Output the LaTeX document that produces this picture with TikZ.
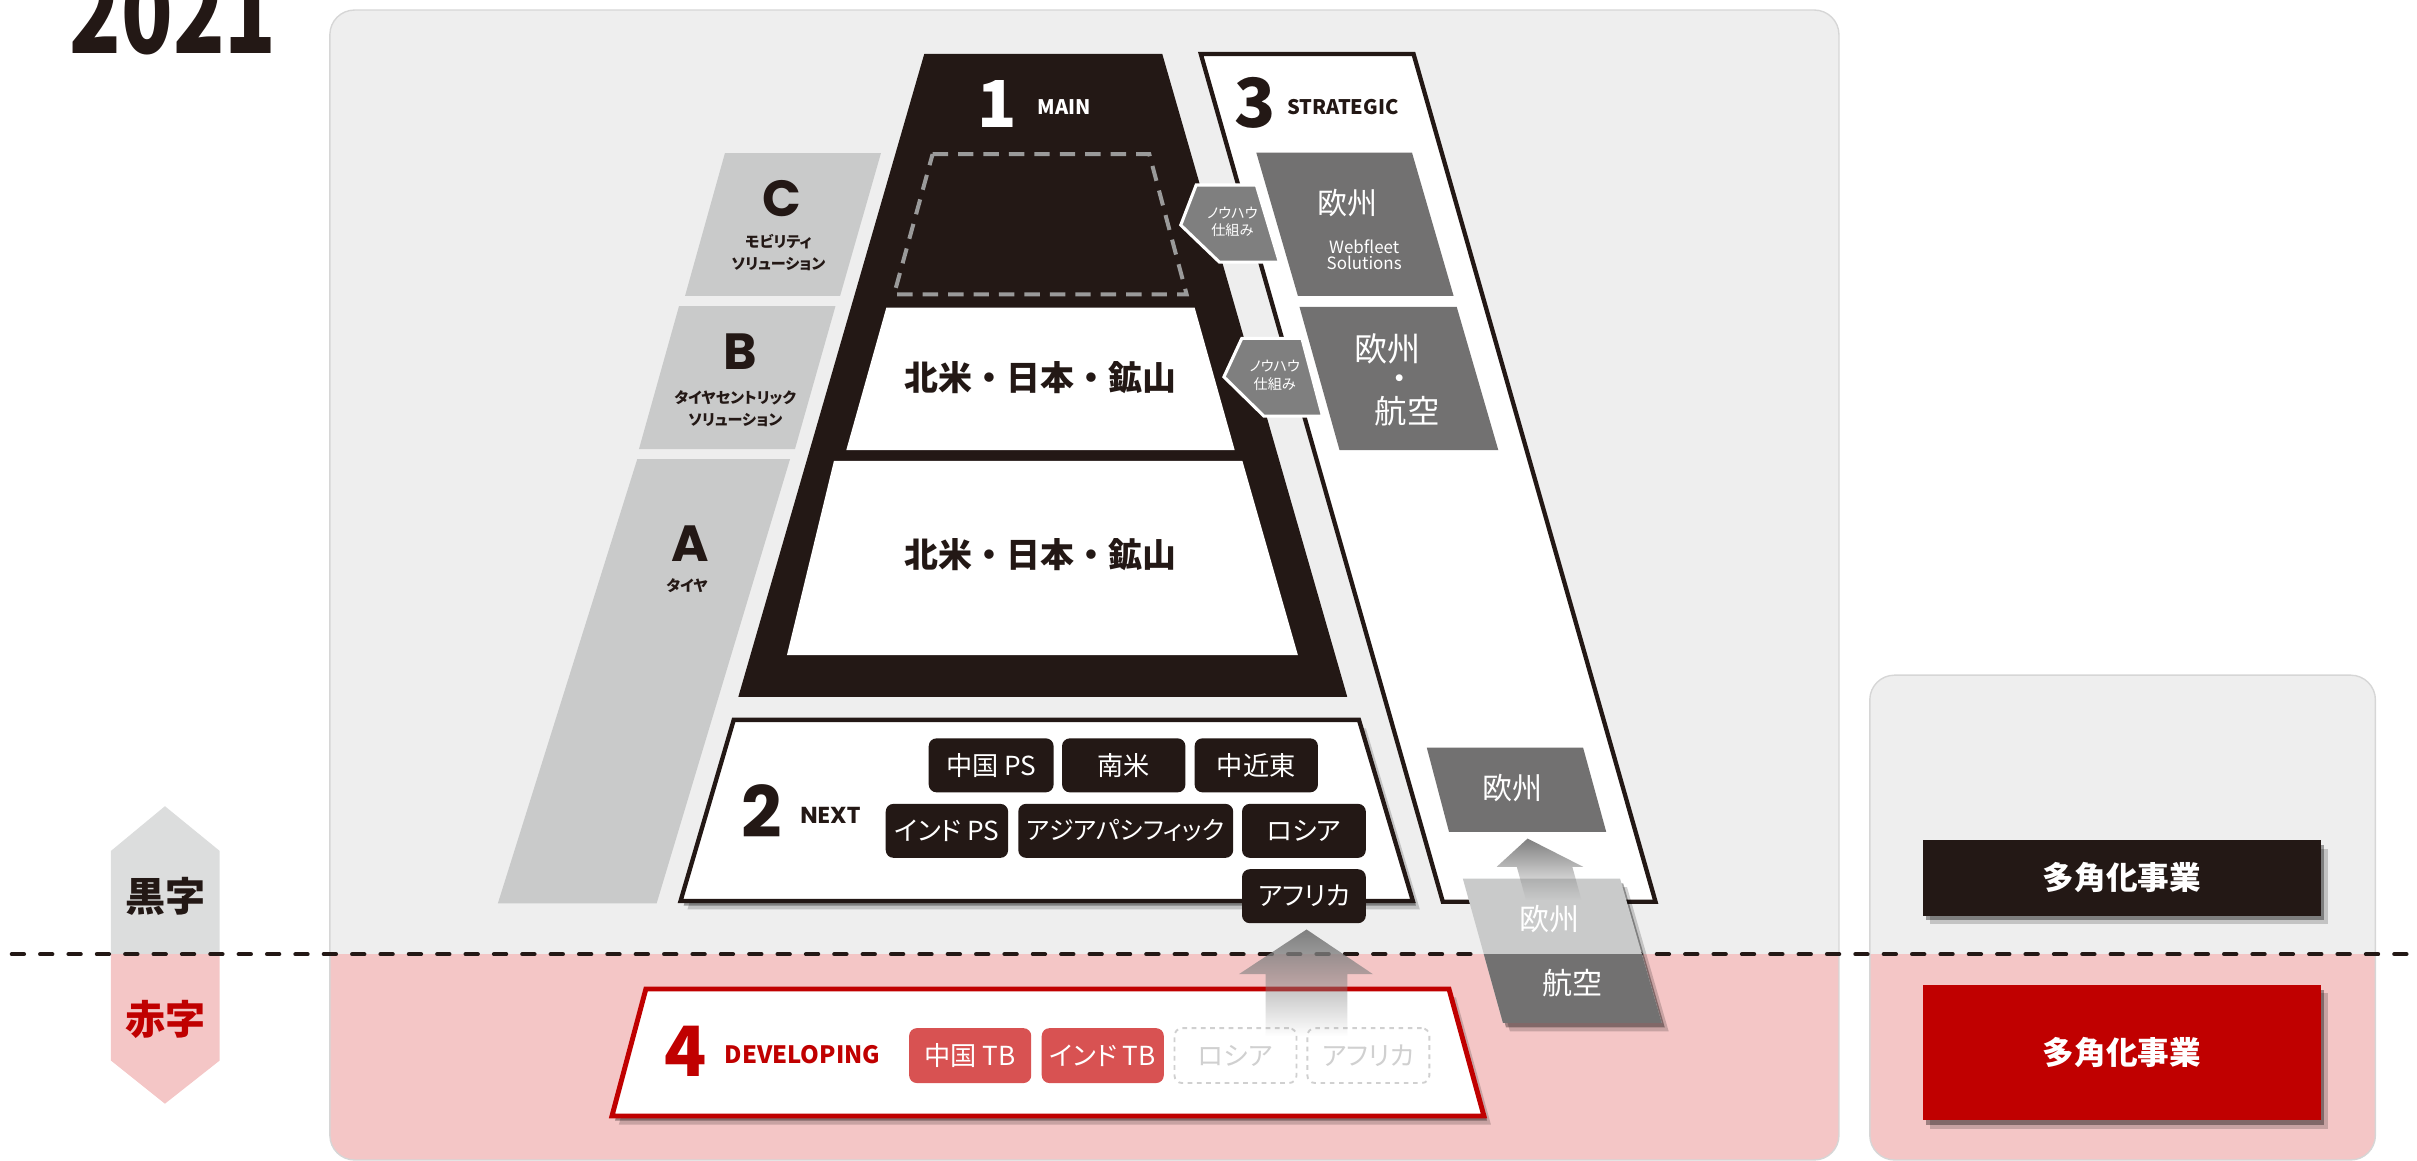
\documentclass[tikz,border=0pt]{standalone}
\usepackage{fontspec}
\setmainfont{Noto Sans CJK JP}
\newfontfamily\jpp{Noto Sans CJK JP}[RawFeature=+palt]
\newfontfamily\geo{Poppins}
\usetikzlibrary{shadows,fadings,calc}
\newcommand{\fsz}[1]{\fontsize{#1pt}{#1pt}\selectfont}
\newcommand{\fszl}[2]{\fontsize{#1pt}{#2pt}\selectfont}
\definecolor{ink}{HTML}{231815}
\definecolor{panelbg}{HTML}{EEEEEE}
\definecolor{panelline}{HTML}{D6D6D6}
\definecolor{pinkbg}{HTML}{F4C6C6}
\definecolor{lgray}{HTML}{C9CACA}
\definecolor{dgray}{HTML}{727171}
\definecolor{agray}{HTML}{7F7F7F}
\definecolor{hexgray}{HTML}{DCDDDD}
\definecolor{redc}{HTML}{C00000}
\definecolor{salmon}{HTML}{D85252}
\definecolor{dashgray}{HTML}{9A9A9A}
\definecolor{ghost}{HTML}{D0D0D0}
\tikzfading[name=fadedown, top color=transparent!0, middle color=transparent!20, bottom color=transparent!100]
\tikzset{
  softshadow/.style={
    drop shadow={shadow xshift=2pt,shadow yshift=-3pt,opacity=.35,fill=black},
    drop shadow={shadow xshift=4.5pt,shadow yshift=-5.5pt,opacity=.18,fill=black}},
  nbox/.style={fill=ink, text=white, rounded corners=5pt, minimum height=35pt, inner sep=0pt, font=\jpp\fsz{17}},
  tbox/.style={fill=salmon, text=white, rounded corners=5pt, minimum height=35.6pt, minimum width=79.2pt, inner sep=0pt, font=\jpp\fsz{17}},
  gbox/.style={draw=ghost, dashed, line width=1.2pt, text=ghost, rounded corners=5pt, minimum height=35.6pt, minimum width=79.2pt, inner sep=0pt, font=\jpp\fsz{17}},
  wtxt/.style={text=white, inner sep=0pt},
  ktxt/.style={text=ink, inner sep=0pt},
  halo/.style={inner sep=0pt, font=\bfseries\fsz{26}},
}
\begin{document}
\begin{tikzpicture}[x=1pt,y=-1pt]
\useasboundingbox (0,0) rectangle (1568,753);
% panels
\fill[panelbg, rounded corners=16pt] (214,6.5) rectangle (1193,752.5);
\fill[panelbg, rounded corners=16pt] (1213,438) rectangle (1541,752.5);
\begin{scope}
  \clip[rounded corners=16pt] (214,6.5) rectangle (1193,752.5);
  \fill[pinkbg] (200,619) rectangle (1200,760);
\end{scope}
\begin{scope}
  \clip[rounded corners=16pt] (1213,438) rectangle (1541,752.5);
  \fill[pinkbg] (1200,619) rectangle (1560,760);
\end{scope}
\draw[panelline, line width=0.9pt, rounded corners=16pt] (214,6.5) rectangle (1193,752.5);
\draw[panelline, line width=0.9pt, rounded corners=16pt] (1213,438) rectangle (1541,752.5);
% hexagon
\fill[hexgray] (107,523) -- (142.5,552) -- (142.5,619) -- (72,619) -- (72,552) -- cycle;
\fill[pinkbg] (72,619) -- (142.5,619) -- (142.5,688) -- (107,716) -- (72,688) -- cycle;
% A B C
\fill[lgray] (470.3,99.3) -- (571.5,99.3) -- (545,192) -- (444.4,192) -- cycle;
\fill[lgray] (440.5,198.6) -- (542,198.6) -- (515.7,291.4) -- (414.5,291.4) -- cycle;
\fill[lgray] (413.4,297.9) -- (512.5,297.9) -- (426,586) -- (323,586) -- cycle;
\node[ktxt, font=\geo\bfseries\fsz{33}] (tC) at (507,129) {C};
\node[ktxt, font=\jpp\bfseries\fszl{9.8}{14}, align=center] (mC) at (505,164) {モビリティ\\ソリューション};
\node[ktxt, font=\geo\bfseries\fsz{33}] (tB) at (480,228.4) {B};
\node[ktxt, font=\jpp\bfseries\fszl{9.8}{14}, align=center] (mB) at (477,265) {タイヤセントリック\\ソリューション};
\node[ktxt, font=\geo\bfseries\fsz{33}] (tA) at (447.6,352.6) {A};
\node[ktxt, font=\jpp\bfseries\fsz{9.8}] (mA) at (445.7,380) {タイヤ};
% MAIN
\fill[ink] (599.6,35) -- (754,35) -- (874,452) -- (479,452) -- cycle;
\draw[dashgray, line width=2.6pt, dash pattern=on 10pt off 6.5pt] (605,100) -- (745.6,100) -- (769.8,191) -- (580,191) -- cycle;
\fill[white] (575,199.5) -- (775,199.5) -- (801,292) -- (549,292) -- cycle;
\fill[white] (541,299) -- (806,299) -- (842,425) -- (510.5,425) -- cycle;
\node[wtxt, font=\bfseries\fsz{42}, anchor=base] (n1) at (647,83) {1};
\node[wtxt, font=\bfseries\fsz{13}, anchor=base west] (main) at (673,74.6) {MAIN};
\node[ktxt, font=\bfseries\fsz{22}] (na1) at (675,245) {北米・日本・鉱山};
\node[ktxt, font=\bfseries\fsz{22}] (na2) at (675,360) {北米・日本・鉱山};
% STRATEGIC
\draw[ink, fill=white, line width=2.8pt] (779,35) -- (917,35) -- (1074,585) -- (936,585) -- cycle;
\node[ktxt, font=\bfseries\fsz{44}, anchor=base] (n3) at (814.5,83) {3};
\node[ktxt, font=\bfseries\fsz{13}, anchor=base west] (strat) at (835,74) {STRATEGIC};
\fill[dgray] (815,99) -- (916,99) -- (943,192) -- (842,192) -- cycle;
\fill[dgray] (843,199) -- (945,199) -- (972,292) -- (869,292) -- cycle;
\fill[dgray] (925.6,485) -- (1027,485) -- (1042,539.6) -- (940,539.6) -- cycle;
\node[wtxt, font=\fsz{19.5}] (eu1) at (874,132) {欧州};
\node[wtxt, font=\fszl{11}{10.5}, align=center] (wf) at (885,165) {Webfleet\\Solutions};
\node[wtxt, font=\fsz{21.5}] (eu2) at (900,226) {欧州};
\node[wtxt, font=\fsz{21}] (dot) at (908,248) {・};
\node[wtxt, font=\fsz{21}] (av2) at (913,267) {航空};
\node[wtxt, font=\fsz{19.5}] (eu3) at (981.5,511) {欧州};
% know-how pentagons
\draw[white, fill=agray, line width=2pt] (776,120) -- (815,120) -- (830,170) -- (791,170) -- (766,146) -- cycle;
\draw[white, fill=agray, line width=2pt] (805.6,219.5) -- (844.6,219.5) -- (858,270) -- (820,270) -- (794,244.5) -- cycle;
\node[wtxt, font=\jpp\fszl{9.2}{11.5}, align=center] (kh1) at (799.5,144) {ノウハウ\\仕組み};
\node[wtxt, font=\jpp\fszl{9.2}{11.5}, align=center] (kh2) at (827,243.5) {ノウハウ\\仕組み};
% NEXT
\draw[ink, fill=white, line width=2.8pt, softshadow] (476,467) -- (881.6,467) -- (916.6,584.5) -- (441.5,584.5) -- cycle;
\node[ktxt, font=\geo\bfseries\fsz{46}, anchor=base] (n2) at (494,543) {2};
\node[ktxt, font=\geo\bfseries\fsz{15}, anchor=base west] (next) at (519,534) {NEXT};
\node[nbox, minimum width=81pt] (cps) at (643,496.5) {中国 PS};
\node[nbox, minimum width=80pt] (nb) at (729,496.5) {南米};
\node[nbox, minimum width=80pt] (me) at (815,496.5) {中近東};
\node[nbox, minimum width=79.4pt] (ips) at (614.3,539) {インド PS};
\node[nbox, minimum width=139.4pt, font=\jpp\fsz{16.2}] (ap) at (730.3,539) {アジアパシフィック};
\node[nbox, minimum width=80.3pt] (ru) at (845.9,539) {ロシア};
\node[nbox, minimum width=80.3pt] (af) at (845.9,581.4) {アフリカ};
% DEVELOPING
\draw[redc, fill=white, line width=3.2pt, softshadow] (419,641.6) -- (940,641.6) -- (962.7,724) -- (397,724) -- cycle;
\node[text=redc, inner sep=0pt, font=\bfseries\fsz{45}, anchor=base] (n4) at (445,698.6) {4};
\node[text=redc, inner sep=0pt, font=\bfseries\fsz{15.5}, anchor=base west] (dev) at (470,689.6) {DEVELOPING};
\node[tbox] (ctb) at (629.4,684.8) {中国 TB};
\node[tbox] (itb) at (715.4,684.8) {インド TB};
\node[gbox] (rug) at (801.5,684.8) {ロシア};
\node[gbox] (afg) at (887.7,684.8) {アフリカ};
% dashed divider
\coordinate (dl) at (7.6,619);
\coordinate (dr) at (1568,619);
\draw[ink, line width=2.6pt, dash pattern=on 8pt off 10.4pt, line cap=round] (dl) -- (dr);
% arrow 4 -> Africa
\fill[agray, path fading=fadedown] (847.6,603) -- (890.7,632) -- (874,632) -- (874,672) -- (821,672) -- (821,632) -- (803.7,632) -- cycle;
% Europe / aviation box
\fill[lgray, softshadow] (949,570) -- (1051,570) -- (1078,663.5) -- (975,663.5) -- cycle;
\fill[dgray] (962.6,619) -- (1065.1,619) -- (1078,663.5) -- (975,663.5) -- cycle;
\node[wtxt, font=\fsz{19.5}] (eu4) at (1005,596) {欧州};
\node[wtxt, font=\fsz{19.5}] (av4) at (1020,638) {航空};
\fill[agray, path fading=fadedown] (991,544) -- (1027,562.3) -- (1020,562.3) -- (1026,584) -- (990,584) -- (984,562.3) -- (971,562.3) -- cycle;
% right panel boxes
\node[fill=ink, text=white, softshadow, minimum width=258pt, minimum height=49pt, inner sep=0pt, font=\bfseries\fsz{20.5}] (div1) at (1376.6,569.5) {多角化事業};
\node[fill=redc, text=white, softshadow, minimum width=258pt, minimum height=87.6pt, inner sep=0pt, font=\bfseries\fsz{20.5}] (div2) at (1376.6,682.8) {多角化事業};
% profit / loss labels
\node[halo, text=ink] (kuro) at (107.5,581.5) {黒字};
\node[halo, text=redc] (aka) at (107.5,661.5) {赤字};
% year
\node[text=ink, inner sep=0pt, anchor=base west, font=\bfseries\fsz{72}] (yr) at (45,34.6) {\scalebox{0.765}[1]{2021}};
\end{tikzpicture}
\end{document}
